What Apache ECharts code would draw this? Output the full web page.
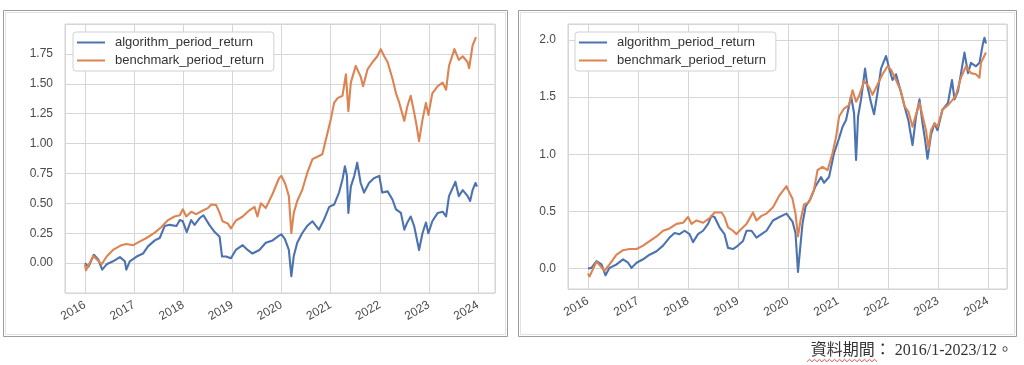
<!DOCTYPE html>
<html>
<head>
<meta charset="utf-8">
<script src="https://cdn.jsdelivr.net/npm/echarts@6/dist/echarts.min.js"></script>
<style>
html,body{margin:0;padding:0;background:#fff;}
#chart{width:1024px;height:365px;}
</style>
</head>
<body>
<div id="chart"></div>
<script>
// ---- data (decimal year, cumulative return) ----
const seriesNames = ['algorithm_period_return', 'benchmark_period_return'];
const caption = '資料期間： 2016/1-2023/12。';

const leftAlgorithm = [[2016.00,0.00],[2016.07,-0.03],[2016.18,0.07],[2016.27,0.03],[2016.35,-0.055],[2016.44,-0.01],[2016.57,0.015],[2016.71,0.05],[2016.81,0.015],[2016.84,-0.055],[2016.91,0.015],[2017.05,0.055],[2017.18,0.08],[2017.28,0.14],[2017.42,0.19],[2017.52,0.21],[2017.62,0.31],[2017.72,0.32],[2017.86,0.31],[2017.93,0.36],[2017.99,0.35],[2018.07,0.26],[2018.16,0.36],[2018.23,0.32],[2018.33,0.375],[2018.41,0.40],[2018.53,0.32],[2018.64,0.26],[2018.74,0.22],[2018.79,0.055],[2018.87,0.055],[2018.97,0.04],[2019.07,0.11],[2019.21,0.15],[2019.31,0.11],[2019.41,0.08],[2019.55,0.11],[2019.68,0.17],[2019.82,0.19],[2019.95,0.23],[2020.00,0.24],[2020.07,0.20],[2020.15,0.11],[2020.20,-0.11],[2020.25,0.06],[2020.32,0.17],[2020.42,0.25],[2020.52,0.31],[2020.63,0.35],[2020.76,0.28],[2020.86,0.36],[2020.97,0.47],[2021.07,0.49],[2021.17,0.59],[2021.24,0.70],[2021.29,0.81],[2021.33,0.73],[2021.36,0.42],[2021.41,0.64],[2021.48,0.73],[2021.54,0.84],[2021.61,0.67],[2021.68,0.59],[2021.78,0.67],[2021.88,0.71],[2021.99,0.73],[2022.05,0.59],[2022.16,0.60],[2022.26,0.53],[2022.33,0.45],[2022.43,0.42],[2022.50,0.28],[2022.56,0.34],[2022.63,0.39],[2022.70,0.31],[2022.80,0.11],[2022.87,0.25],[2022.94,0.34],[2022.99,0.25],[2023.07,0.35],[2023.18,0.42],[2023.28,0.43],[2023.35,0.39],[2023.41,0.56],[2023.54,0.68],[2023.61,0.56],[2023.69,0.61],[2023.79,0.56],[2023.84,0.52],[2023.89,0.61],[2023.95,0.67],[2023.98,0.64]];

const leftBenchmark = [[2016.00,-0.01],[2016.02,-0.06],[2016.17,0.06],[2016.34,-0.01],[2016.44,0.055],[2016.57,0.11],[2016.74,0.15],[2016.84,0.16],[2016.98,0.15],[2017.11,0.18],[2017.25,0.21],[2017.42,0.255],[2017.55,0.30],[2017.69,0.36],[2017.82,0.39],[2017.93,0.40],[2017.99,0.45],[2018.06,0.39],[2018.16,0.43],[2018.26,0.41],[2018.40,0.44],[2018.50,0.46],[2018.57,0.49],[2018.67,0.485],[2018.74,0.42],[2018.80,0.35],[2018.91,0.33],[2018.97,0.29],[2019.07,0.355],[2019.21,0.39],[2019.34,0.44],[2019.45,0.47],[2019.51,0.39],[2019.58,0.50],[2019.68,0.46],[2019.82,0.58],[2019.95,0.71],[2020.00,0.73],[2020.08,0.66],[2020.15,0.56],[2020.20,0.25],[2020.25,0.42],[2020.32,0.52],[2020.42,0.61],[2020.52,0.75],[2020.63,0.87],[2020.73,0.89],[2020.83,0.91],[2020.90,1.03],[2021.00,1.20],[2021.07,1.34],[2021.14,1.38],[2021.24,1.40],[2021.31,1.58],[2021.36,1.27],[2021.41,1.51],[2021.51,1.65],[2021.61,1.56],[2021.66,1.48],[2021.75,1.62],[2021.85,1.68],[2021.95,1.73],[2022.02,1.79],[2022.09,1.73],[2022.16,1.68],[2022.26,1.54],[2022.33,1.42],[2022.39,1.35],[2022.50,1.19],[2022.56,1.31],[2022.63,1.40],[2022.70,1.26],[2022.75,1.15],[2022.80,1.02],[2022.87,1.20],[2022.94,1.34],[2022.99,1.24],[2023.07,1.42],[2023.18,1.48],[2023.28,1.51],[2023.35,1.45],[2023.41,1.65],[2023.52,1.79],[2023.61,1.70],[2023.69,1.73],[2023.79,1.68],[2023.82,1.63],[2023.89,1.82],[2023.96,1.89]];

const rightAlgorithm = [[2016.00,0.00],[2016.07,0.005],[2016.17,0.065],[2016.27,0.035],[2016.35,-0.06],[2016.43,0.005],[2016.57,0.035],[2016.70,0.08],[2016.80,0.05],[2016.87,0.005],[2016.97,0.05],[2017.10,0.08],[2017.23,0.12],[2017.37,0.15],[2017.50,0.20],[2017.63,0.27],[2017.73,0.31],[2017.83,0.30],[2017.93,0.33],[2018.03,0.30],[2018.10,0.23],[2018.20,0.30],[2018.30,0.33],[2018.40,0.39],[2018.47,0.46],[2018.53,0.45],[2018.63,0.36],[2018.73,0.30],[2018.80,0.18],[2018.90,0.17],[2019.00,0.20],[2019.10,0.24],[2019.17,0.33],[2019.27,0.33],[2019.37,0.27],[2019.47,0.30],[2019.57,0.33],[2019.70,0.42],[2019.83,0.45],[2019.97,0.48],[2020.09,0.41],[2020.15,0.31],[2020.20,-0.03],[2020.24,0.16],[2020.29,0.39],[2020.35,0.54],[2020.45,0.61],[2020.55,0.72],[2020.66,0.80],[2020.72,0.75],[2020.82,0.80],[2020.92,1.01],[2021.02,1.14],[2021.09,1.24],[2021.16,1.30],[2021.26,1.51],[2021.32,1.36],[2021.36,0.95],[2021.40,1.33],[2021.46,1.48],[2021.54,1.75],[2021.59,1.59],[2021.66,1.45],[2021.72,1.35],[2021.79,1.54],[2021.86,1.75],[2021.96,1.86],[2022.03,1.74],[2022.09,1.65],[2022.16,1.70],[2022.26,1.54],[2022.33,1.42],[2022.41,1.29],[2022.49,1.08],[2022.56,1.33],[2022.63,1.48],[2022.69,1.27],[2022.74,1.13],[2022.79,0.96],[2022.86,1.17],[2022.93,1.27],[2022.99,1.21],[2023.09,1.39],[2023.20,1.45],[2023.28,1.65],[2023.33,1.48],[2023.40,1.55],[2023.53,1.89],[2023.60,1.71],[2023.66,1.80],[2023.76,1.77],[2023.83,1.80],[2023.90,1.97],[2023.93,2.02],[2023.96,1.97]];

const rightBenchmark = [[2016.00,-0.045],[2016.03,-0.07],[2016.17,0.06],[2016.33,-0.02],[2016.43,0.035],[2016.57,0.12],[2016.70,0.16],[2016.83,0.17],[2016.97,0.17],[2017.10,0.20],[2017.23,0.24],[2017.37,0.28],[2017.50,0.33],[2017.63,0.35],[2017.77,0.39],[2017.90,0.40],[2018.00,0.45],[2018.07,0.39],[2018.17,0.42],[2018.30,0.40],[2018.43,0.44],[2018.53,0.49],[2018.67,0.49],[2018.73,0.45],[2018.80,0.36],[2018.90,0.33],[2018.97,0.30],[2019.03,0.33],[2019.17,0.39],[2019.30,0.49],[2019.37,0.42],[2019.47,0.46],[2019.57,0.48],[2019.70,0.535],[2019.83,0.64],[2019.97,0.72],[2020.00,0.69],[2020.09,0.61],[2020.15,0.48],[2020.20,0.28],[2020.25,0.42],[2020.32,0.56],[2020.42,0.58],[2020.52,0.69],[2020.59,0.86],[2020.69,0.89],[2020.79,0.86],[2020.89,1.01],[2020.96,1.15],[2021.02,1.33],[2021.12,1.40],[2021.22,1.43],[2021.29,1.56],[2021.36,1.46],[2021.42,1.51],[2021.52,1.64],[2021.62,1.59],[2021.69,1.52],[2021.79,1.61],[2021.89,1.70],[2021.99,1.77],[2022.06,1.74],[2022.16,1.65],[2022.26,1.55],[2022.33,1.42],[2022.41,1.37],[2022.49,1.24],[2022.56,1.35],[2022.63,1.45],[2022.71,1.30],[2022.76,1.21],[2022.81,1.05],[2022.86,1.21],[2022.93,1.27],[2022.99,1.24],[2023.09,1.39],[2023.20,1.43],[2023.30,1.48],[2023.36,1.52],[2023.46,1.67],[2023.56,1.77],[2023.66,1.71],[2023.76,1.70],[2023.83,1.67],[2023.86,1.80],[2023.96,1.89]];

// axis ranges (decimal years / values)
const leftXRange = [2015.593, 2024.346];
const rightXRange = [2015.60, 2024.38];
const leftYRange = [-0.25, 2.0];
const rightYRange = [-0.18, 2.14];

// ---- helpers ----
function yearToTime(y) {
  const yr = Math.floor(y);
  const a = Date.UTC(yr, 0, 1), b = Date.UTC(yr + 1, 0, 1);
  return a + (y - yr) * (b - a);
}
const toSeries = arr => arr.map(p => [yearToTime(p[0]), p[1]]);

const BLUE = '#4c72b0', ORANGE = '#dd8452';
const GRID_C = '#d6d6d6';
const LABEL_C = '#4a4a4a';
const ONE_YEAR = 365 * 86400000;
const FONT = '"Liberation Sans", Arial, sans-serif';

function xAxis(gridIndex, range) {
  return {
    type: 'time', gridIndex,
    min: yearToTime(range[0]), max: yearToTime(range[1]),
    minInterval: ONE_YEAR, maxInterval: ONE_YEAR,
    axisLine: {show: false}, axisTick: {show: false},
    splitLine: {show: true, lineStyle: {color: GRID_C, width: 1}},
    axisLabel: {
      rotate: 30, margin: 11, fontSize: 12, color: LABEL_C, fontFamily: FONT,
      formatter: v => {
        const d = new Date(v);
        return (d.getUTCMonth() === 0 && d.getUTCDate() === 1) ? String(d.getUTCFullYear()) : '';
      }
    }
  };
}
function yAxis(gridIndex, range, step, digits, interval) {
  const ax = {
    type: 'value', gridIndex, min: range[0], max: range[1],
    axisLine: {show: false}, axisTick: {show: false},
    splitLine: {show: true, lineStyle: {color: GRID_C, width: 1}},
    axisLabel: {
      margin: 12, fontSize: 12, color: LABEL_C, fontFamily: FONT,
      formatter: v => {
        const k = v / step;
        if (Math.abs(k - Math.round(k)) > 1e-6) return '';
        if (v <= range[0] + 1e-9 || v >= range[1] - 1e-9) return '';
        return v.toFixed(digits);
      }
    }
  };
  if (interval) ax.interval = interval;
  return ax;
}
function legend(left, top) {
  return {
    left, top, orient: 'vertical',
    icon: 'rect', itemWidth: 28, itemHeight: 2, itemGap: 3,
    padding: [3, 10, 3, 4],
    backgroundColor: '#fff', borderColor: '#d0d0d0', borderWidth: 1, borderRadius: 3,
    textStyle: {fontSize: 13, color: '#333', fontFamily: FONT, lineHeight: 15, padding: [0, 0, 0, 5]},
    selectedMode: false,
    data: seriesNames
  };
}
function line(name, data, color, xi, yi) {
  return {
    name, type: 'line', xAxisIndex: xi, yAxisIndex: yi,
    data: toSeries(data), showSymbol: false, symbol: 'none',
    lineStyle: {color, width: 2.1, join: 'round'}, itemStyle: {color},
    z: name === seriesNames[0] ? 2 : 3
  };
}

const wave = [];
for (let i = 0, x = 807; x <= 877; i++, x += 2.5) wave.push([x, 360.5 + (i % 2 ? -1.2 : 1.2)]);

const option = {
  animation: false,
  useUTC: true,
  grid: [
    {left: 65, top: 24, right: 1024 - 495, bottom: 365 - 293, show: true, borderColor: '#d2d2d2', borderWidth: 1},
    {left: 568, top: 24, right: 1024 - 1007, bottom: 365 - 289, show: true, borderColor: '#d2d2d2', borderWidth: 1}
  ],
  xAxis: [xAxis(0, leftXRange), xAxis(1, rightXRange)],
  yAxis: [yAxis(0, leftYRange, 0.25, 2, 0.25), yAxis(1, rightYRange, 0.5, 1, null)],
  legend: [legend(73, 32), legend(575, 32)],
  series: [
    line(seriesNames[0], leftAlgorithm, BLUE, 0, 0),
    line(seriesNames[1], leftBenchmark, ORANGE, 0, 0),
    line(seriesNames[0], rightAlgorithm, BLUE, 1, 1),
    line(seriesNames[1], rightBenchmark, ORANGE, 1, 1)
  ],
  graphic: [
    {type: 'rect', shape: {x: 3.5, y: 10.5, width: 504, height: 326}, style: {fill: 'none', stroke: '#9c9c9c', lineWidth: 1}, silent: true},
    {type: 'rect', shape: {x: 5.5, y: 12.5, width: 500, height: 322}, style: {fill: 'none', stroke: '#e2e2e2', lineWidth: 1}, silent: true},
    {type: 'rect', shape: {x: 518.5, y: 10.5, width: 498, height: 326}, style: {fill: 'none', stroke: '#9c9c9c', lineWidth: 1}, silent: true},
    {type: 'rect', shape: {x: 520.5, y: 12.5, width: 494, height: 322}, style: {fill: 'none', stroke: '#e2e2e2', lineWidth: 1}, silent: true},
    {type: 'text', x: 1013, y: 351, silent: true,
      style: {text: caption, fill: '#333', fontSize: 16, fontFamily: '"Liberation Serif", "Noto Sans CJK TC", serif',
        align: 'right', verticalAlign: 'middle'}},
    {type: 'polyline', silent: true, shape: {points: wave}, style: {stroke: '#e05050', lineWidth: 1, fill: 'none'}}
  ]
};

const chart = echarts.init(document.getElementById('chart'), null, {renderer: 'canvas'});
chart.setOption(option);
</script>
</body>
</html>
